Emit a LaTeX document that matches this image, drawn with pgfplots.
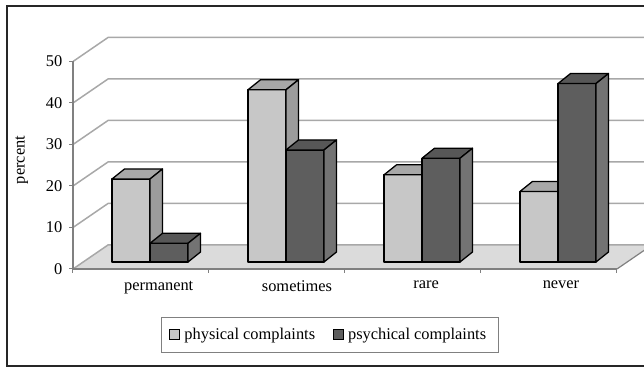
\documentclass[border=0pt]{standalone}
\usepackage{fontspec}
\setmainfont{Liberation Serif}
\usepackage{pgfplots}
\pgfplotsset{compat=1.18}

\definecolor{physfront}{gray}{0.78}
\definecolor{phystop}{gray}{0.66}
\definecolor{physside}{gray}{0.61}
\definecolor{psyfront}{gray}{0.37}
\definecolor{psytop}{gray}{0.34}
\definecolor{psyside}{gray}{0.45}
\definecolor{gridgray}{gray}{0.66}
\definecolor{floorgray}{gray}{0.86}
\definecolor{edgegray}{gray}{0.5}

% A 3-D bar drawn around its mark: the mark sits at the bar's value on the
% front plane of the floor; the bar stands 4.5pt right and 3.5pt up from there.
% #1 left edge of the front face, #2 front colour, #3 top colour, #4 side colour
\newcommand\cuboid[4]{%
  \pgfmathsetlengthmacro\barh{\rawy*2.075pt}%
  \pgfmathsetlengthmacro\bx{#1+4.5pt}%
  \pgfmathsetlengthmacro\bxr{#1+23.5pt}%
  \begin{scope}[line width=0.65pt,line join=round]
    \filldraw[draw=black,fill=#2] (\bx,3.5pt) rectangle ++(19pt,-\barh);
    \filldraw[draw=black,fill=#3] (\bx,3.5pt) -- ++(19pt,0pt) -- ++(6.25pt,5pt)
      -- ++(-19pt,0pt) -- cycle;
    \filldraw[draw=black,fill=#4] (\bxr,3.5pt) -- ++(6.25pt,5pt)
      -- ++(0pt,-\barh) -- ++(-6.25pt,-5pt) -- cycle;
  \end{scope}}
\pgfdeclareplotmark{physbar}{\cuboid{-19pt}{physfront}{phystop}{physside}}
\pgfdeclareplotmark{psybar}{\cuboid{0pt}{psyfront}{psytop}{psyside}}

\pgfplotstableread{
x   y
0.5 20
1.5 41.5
2.5 21
3.5 17
}\physical
\pgfplotstableread{
x   y
0.5 4.5
1.5 27
2.5 25
3.5 43
}\psychical

\begin{document}
\begin{tikzpicture}[font=\fontsize{8.2}{9.8}\selectfont]
% outer frame (open on the right)
\draw[black!85,line width=0.8pt] (360pt,0.5pt) -- (3.5pt,0.5pt) -- (3.5pt,180.5pt) -- (360pt,180.5pt);
\coordinate (O) at (36.5pt,49pt);

\begin{axis}[
  at={(O)}, anchor=south west,
  width=272pt, height=103.75pt, scale only axis,
  xmin=0, xmax=4, ymin=0, ymax=50,
  clip=false, axis on top,
  axis x line*=bottom, axis y line*=left,
  axis line style={edgegray,line width=0.7pt,-},
  tick align=outside, major tick length=1.8pt,
  tick style={edgegray,line width=0.5pt},
  ytick={0,10,20,30,40,50},
  yticklabels={\textrm{0},\textrm{10},\textrm{20},\textrm{30},\textrm{40},\textrm{50}},
  xtick={0,1,2,3,4}, xticklabels={},
  extra x ticks={0.63,1.647,2.596,3.588},
  extra x tick labels={permanent,sometimes,rare,never},
  extra x tick style={major tick length=0pt,
    tick label style={yshift=-2.5pt}},
  ylabel={percent},
  every axis y label/.style={at={(axis description cs:-0.094,0.525)},rotate=90,anchor=center},
  legend columns=2,
  legend style={at={(axis description cs:0.472,-0.318)},anchor=center,
    draw=edgegray,line width=0.5pt,inner xsep=4pt,inner ysep=3pt,
    /tikz/every even column/.append style={column sep=7pt}},
]
% floor and walls
\fill[floorgray] (axis cs:0,0) -- (axis cs:4,0) -- ++(17.5pt,12pt)
  -- ++(-272pt,0pt) -- cycle;
\pgfplotsinvokeforeach{0,10,20,30,40,50}{
  \draw[gridgray,line width=0.75pt] (axis cs:0,#1) -- ++(17.5pt,12pt) -- ++(272pt,0pt);
}
\draw[edgegray,line width=0.6pt] (axis cs:4,0) -- ++(17.5pt,12pt);

\addplot[scatter,only marks,mark=physbar,
  scatter/@pre marker code/.code={},scatter/@post marker code/.code={},
  visualization depends on={rawy \as \rawy},
  legend image code/.code={\draw[black,line width=0.5pt,fill=physfront]
    (0pt,-2.5pt) rectangle (5pt,2.5pt);}]
  table[x=x,y=y] {\physical};
\addlegendentry{physical complaints}
\addplot[scatter,only marks,mark=psybar,
  scatter/@pre marker code/.code={},scatter/@post marker code/.code={},
  visualization depends on={rawy \as \rawy},
  legend image code/.code={\draw[black,line width=0.5pt,fill=psyfront]
    (0pt,-2.5pt) rectangle (5pt,2.5pt);}]
  table[x=x,y=y] {\psychical};
\addlegendentry{psychical complaints}
\end{axis}
\pgfresetboundingbox
\useasboundingbox (0pt,0pt) rectangle (322pt,183.5pt);
\end{tikzpicture}
\end{document}
